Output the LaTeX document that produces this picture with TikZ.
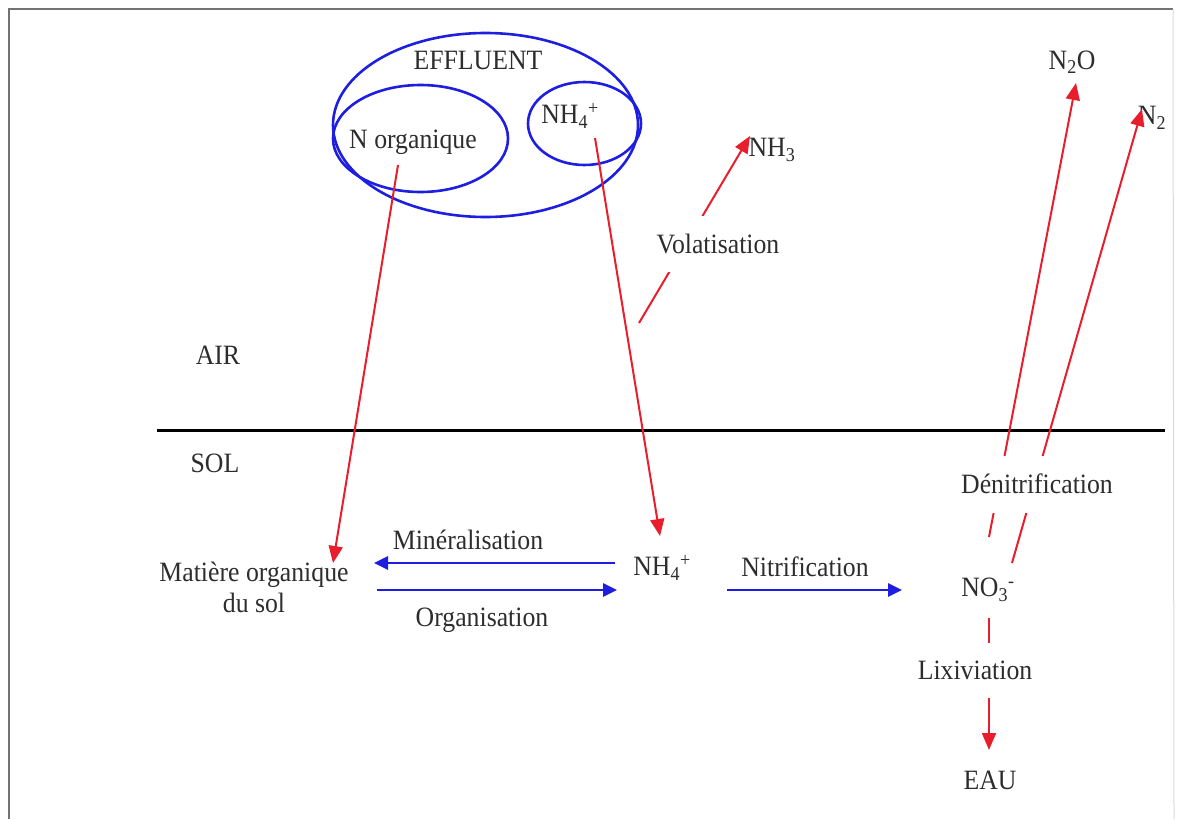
\documentclass[tikz,border=0pt]{standalone}
\usepackage{fontspec}
\setmainfont{Liberation Serif}[FakeStretch=0.92]
\usetikzlibrary{arrows.meta,shapes.geometric}
\definecolor{cred}{RGB}{232,30,45}
\definecolor{cblue}{RGB}{30,30,225}
\definecolor{ctext}{RGB}{45,45,45}
\tikzset{
  txt/.style={inner sep=0pt, text=ctext, font=\fontsize{28}{31}\selectfont},
  gaplabel/.style={txt, fill=white, inner xsep=2pt},
  ellip/.style={draw=cblue, ellipse, line width=2.6pt, inner sep=0pt},
  redarrow/.style={draw=cred, line width=2pt, -{Triangle[length=17pt,width=14pt]}},
  bluearrow/.style={draw=cblue, line width=2.8pt, -{Triangle[length=14pt,width=13pt]}},
  frameline/.style={draw=black!55, line width=2.5pt},
}
\begin{document}
\begin{tikzpicture}[x=1pt,y=-1pt]
\useasboundingbox (0,0) rectangle (1177,819);
% frame
\coordinate (fbl) at (9,819);
\coordinate (ftl) at (9,9);
\coordinate (ftr) at (1173,9);
\coordinate (fbr) at (1174,819);
\draw[frameline] (fbl) -- (ftl) -- (ftr);
\draw[draw=black!15, line width=1pt] (ftr) -- (fbr);

% ellipses
\node[ellip, minimum width=305pt, minimum height=184pt] (eff) at (485.5,125) {};
\node[ellip, minimum width=175pt, minimum height=107pt] (norg) at (420.5,138.5) {};
\node[ellip, minimum width=113pt, minimum height=83pt] (nh4e) at (584.5,123.5) {};
\node[txt] (tEff) at (478,60) {EFFLUENT};
\node[txt] (tNorg) at (413,142) {N organique};
\node[txt] (tNHa) at (570,116) {NH\textsubscript{4}\textsuperscript{+}};

% ground line
\coordinate (gl) at (157,430);
\coordinate (gr) at (1165,430);
\draw[line width=3pt, black] (gl) -- (gr);
\node[txt] (air) at (218,355) {AIR};
\node[txt] (sol) at (215,463) {SOL};

% soil nodes
\node[txt, align=center] (mos) at (254,587) {Matière organique\\du sol};
\node[txt] (nh4s) at (662,568) {NH\textsubscript{4}\textsuperscript{+}};
\node[txt] (no3) at (988,590) {NO\textsubscript{3}\textsuperscript{-}};
\node[txt] (eau) at (990,780) {EAU};
\node[txt] (nh3) at (772,150) {NH\textsubscript{3}};
\node[txt] (n2o) at (1072,62) {N\textsubscript{2}O};
\node[txt] (n2) at (1152,118) {N\textsubscript{2}};

% endpoints
\coordinate (a1s) at (398,165);
\coordinate (a1e) at (333,563);
\coordinate (a2s) at (595,138);
\coordinate (a2e) at (660,536);
\coordinate (vs) at (639,323);
\coordinate (ve) at (750,136);
\coordinate (dos) at (989,537);
\coordinate (doe) at (1076,83);
\coordinate (dns) at (1012,563);
\coordinate (dne) at (1142,109);
\coordinate (ls) at (989,618);
\coordinate (le) at (989,750);
\coordinate (ms) at (615,563);
\coordinate (me) at (374,563);
\coordinate (os) at (377,590);
\coordinate (oe) at (617,590);
\coordinate (ns) at (727,590);
\coordinate (ne) at (902,590);

% red arrows
\draw[redarrow] (a1s) -- (a1e);
\draw[redarrow] (a2s) -- (a2e);
\draw[redarrow] (vs) -- (ve);
\draw[redarrow] (dos) -- (doe);
\draw[redarrow] (dns) -- (dne);
\draw[redarrow] (ls) -- (le);

% blue arrows
\draw[bluearrow] (ms) -- (me);
\draw[bluearrow] (os) -- (oe);
\draw[bluearrow] (ns) -- (ne);

% labels
\node[txt] (lmin) at (468,540) {Minéralisation};
\node[txt] (lorg) at (482,620) {Organisation};
\node[txt] (lnit) at (805,567) {Nitrification};
\node[gaplabel, minimum height=56pt] (lvol) at (718,244) {Volatisation};
\node[gaplabel, minimum height=57pt] (lden) at (1037,484) {Dénitrification};
\node[gaplabel, minimum height=55pt] (llix) at (975,670) {Lixiviation};
\end{tikzpicture}
\end{document}
